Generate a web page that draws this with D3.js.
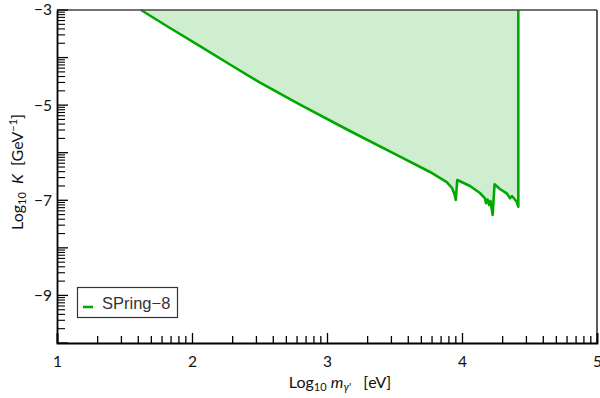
<!DOCTYPE html>
<html><head><meta charset="utf-8">
<script src="https://cdn.jsdelivr.net/npm/d3@7"></script>
<style>body{margin:0;background:#fff}svg{display:block}</style>
</head><body><svg id="c" width="600" height="398"></svg>
<script>
// Data: boundary of excluded region (log10 m [eV], log10 K [GeV^-1])
const logMass = [1.622, 1.837, 2.059, 2.281, 2.504, 2.800, 3.170, 3.541, 3.763, 3.887, 3.926, 3.944, 3.954, 3.965, 4.059, 4.133, 4.170, 4.178, 4.189, 4.202, 4.211, 4.227, 4.241, 4.281, 4.331, 4.356, 4.370, 4.405, 4.417, 4.417];
const logK    = [-3.000, -3.378, -3.757, -4.146, -4.528, -4.987, -5.544, -6.084, -6.405, -6.616, -6.742, -6.868, -6.994, -6.574, -6.700, -6.847, -6.958, -7.063, -6.984, -7.099, -7.015, -7.309, -6.664, -6.763, -6.853, -6.958, -6.910, -7.030, -7.135, -3.000];
const xTicks = [1, 2, 3, 4, 5];
const yTicks = [-3, -5, -7, -9];
const seriesName = "SPring\u22128";

const svg = d3.select("#c");
const L = 57, R = 597, T = 10, B = 343;
const x = d3.scaleLinear().domain([1, 5]).range([L, R]);
const y = d3.scaleLinear().domain([-10, -3]).range([B, T]);
const pts = logMass.map((m, i) => [m, logK[i]]);
const font = "Lato, 'Open Sans', sans-serif";

const green = "#00a800", fill = "#cfeecf";
svg.append("path").datum(pts)
  .attr("d", d3.area().x(d => x(d[0])).y0(y(-3)).y1(d => y(d[1])))
  .attr("fill", fill);
svg.append("path").datum(pts)
  .attr("d", d3.line().x(d => x(d[0])).y(d => y(d[1])))
  .attr("fill", "none").attr("stroke", green).attr("stroke-width", 2.6).attr("stroke-linejoin", "round");

// frame
svg.append("line").attr("x1", L).attr("x2", R).attr("y1", T).attr("y2", T).attr("stroke", "#444").attr("stroke-width", 1.6);
svg.append("line").attr("x1", R).attr("x2", R).attr("y1", T).attr("y2", B).attr("stroke", "#333").attr("stroke-width", 1.6);

// x axis with log-style minor ticks
const xMinor = [];
for (let d = 1; d < 5; d++) for (let k = 2; k <= 9; k++) xMinor.push(d + Math.log10(k));
const xa = svg.append("g").attr("transform", `translate(0,${B})`);
xa.call(d3.axisBottom(x).tickValues(xTicks).tickSize(-10).tickPadding(10).tickFormat(d3.format("d")));
xa.selectAll(".tick line").attr("stroke", "#000").attr("stroke-width", 1.3);
xa.selectAll(".tick text").attr("font-family", font).attr("font-size", 15.5).attr("fill", "#111").attr("dy", "0.9em");
xa.select(".domain").attr("stroke", "#000").attr("stroke-width", 1.8);
xa.selectAll("line.minor").data(xMinor).enter().append("line")
  .attr("x1", d => x(d)).attr("x2", d => x(d)).attr("y1", 0).attr("y2", -7)
  .attr("stroke", "#000").attr("stroke-width", 1.3);

// y axis
const yMajor = d3.range(-10, -2);
const yMinor = [];
for (let d = -10; d < -3; d++) for (let k = 2; k <= 9; k++) yMinor.push(d + Math.log10(k));
const ya = svg.append("g").attr("transform", `translate(${L},0)`);
ya.call(d3.axisLeft(y).tickValues(yTicks).tickSize(0).tickPadding(5).tickFormat(d => "\u2212" + Math.abs(d)));
ya.selectAll(".tick text").attr("font-family", font).attr("font-size", 15.5).attr("fill", "#111");
ya.select(".domain").attr("stroke", "#000").attr("stroke-width", 1.8);
ya.selectAll("line.maj").data(yMajor).enter().append("line")
  .attr("x1", 0).attr("x2", 11).attr("y1", d => y(d)).attr("y2", d => y(d))
  .attr("stroke", "#000").attr("stroke-width", 1.3);
ya.selectAll("line.min").data(yMinor).enter().append("line")
  .attr("x1", 0).attr("x2", 8).attr("y1", d => y(d)).attr("y2", d => y(d))
  .attr("stroke", "#000").attr("stroke-width", 1.1);

// axis titles
const xt = svg.append("text").attr("x", 340).attr("y", 388).attr("text-anchor", "middle")
  .attr("font-family", font).attr("font-size", 16).attr("fill", "#111");
xt.append("tspan").text("Log");
xt.append("tspan").attr("font-size", 11).attr("dy", 3).text("10");
xt.append("tspan").attr("dy", -3).text("\u00a0");
xt.append("tspan").attr("font-style", "italic").text("m");
xt.append("tspan").attr("font-style", "italic").attr("font-size", 11).attr("dy", 3).text("\u03b3'");
xt.append("tspan").attr("dy", -3).text("\u00a0\u00a0\u00a0[eV]");

const yt = svg.append("text").attr("transform", "translate(23,172) rotate(-90)").attr("text-anchor", "middle")
  .attr("font-family", font).attr("font-size", 16).attr("fill", "#111");
yt.append("tspan").text("Log");
yt.append("tspan").attr("font-size", 11).attr("dy", 3).text("10");
yt.append("tspan").attr("dy", -3).text("\u00a0\u00a0");
yt.append("tspan").attr("font-style", "italic").text("K");
yt.append("tspan").text("\u00a0\u00a0[GeV");
yt.append("tspan").attr("font-size", 11).attr("dy", -6).text("\u22121");
yt.append("tspan").attr("dy", 6).text("]");

// legend
const lg = svg.append("g");
lg.append("rect").attr("x", 77.5).attr("y", 287.5).attr("width", 100).attr("height", 30)
  .attr("fill", "#fff").attr("stroke", "#333").attr("stroke-width", 1.2);
lg.append("line").attr("x1", 83).attr("x2", 93).attr("y1", 307).attr("y2", 307).attr("stroke", green).attr("stroke-width", 2.6);
lg.append("text").attr("x", 102).attr("y", 309).attr("font-family", "'Liberation Sans', Arial, sans-serif")
  .attr("font-size", 16.5).attr("fill", "#333").text(seriesName);
</script></body></html>
